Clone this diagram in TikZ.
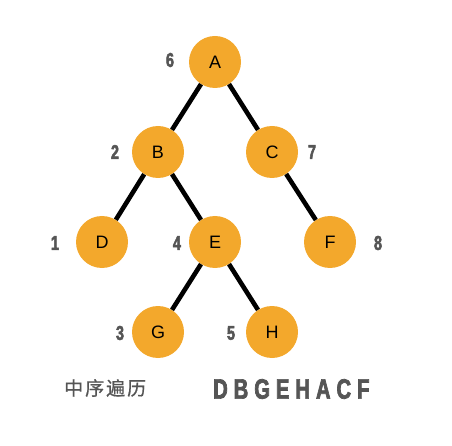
\documentclass[tikz,border=0pt]{standalone}
\usepackage{fontspec}
\setmainfont{Liberation Sans}
\newfontfamily\numfont[FakeStretch=0.72,FakeBold=2.5]{Liberation Sans Bold}
\newfontfamily\cjk[FakeBold=0.6]{Noto Sans CJK SC}
\definecolor{nodeorange}{HTML}{F3A82C}
\definecolor{labelgray}{HTML}{555555}
\begin{document}
\begin{tikzpicture}[x=1pt,y=-1pt,
  treenode/.style={circle,fill=nodeorange,minimum size=52pt,inner sep=0pt,font=\fontsize{18}{18}\selectfont},
  ordlabel/.style={text=labelgray,font=\numfont\fontsize{20}{20}\selectfont,inner sep=0pt},
  edge/.style={line width=4.6pt,black}]
\useasboundingbox (0,0) rectangle (452,446);
\node[treenode] (A) at (215,62) {A};
\node[treenode] (B) at (158,152) {B};
\node[treenode] (C) at (272,152) {C};
\node[treenode] (D) at (102,242) {D};
\node[treenode] (E) at (215,242) {E};
\node[treenode] (F) at (330,242) {F};
\node[treenode] (G) at (158,332) {G};
\node[treenode] (H) at (272,332) {H};
\draw[edge] (A) -- (B);
\draw[edge] (A) -- (C);
\draw[edge] (B) -- (D);
\draw[edge] (B) -- (E);
\draw[edge] (C) -- (F);
\draw[edge] (E) -- (G);
\draw[edge] (E) -- (H);
\node[ordlabel] (l6) at (170,60) {6};
\node[ordlabel] (l2) at (115,152) {2};
\node[ordlabel] (l7) at (312,152) {7};
\node[ordlabel] (l1) at (55,243) {1};
\node[ordlabel] (l4) at (177,243) {4};
\node[ordlabel] (l8) at (378,243) {8};
\node[ordlabel] (l3) at (120,333) {3};
\node[ordlabel] (l5) at (231,333) {5};
\node[text=labelgray,inner sep=0pt,anchor=west] (title) at (64,388) {\cjk\fontsize{19}{19}\selectfont 中\hspace{2pt}序\hspace{2pt}遍\hspace{2pt}历};
\node[text=labelgray,inner sep=0pt,anchor=west] (order) at (213,389) {\numfont\fontsize{28}{28}\selectfont D\hspace{6pt}B\hspace{6pt}G\hspace{6pt}E\hspace{6pt}H\hspace{6pt}A\hspace{6pt}C\hspace{6pt}F};
\end{tikzpicture}
\end{document}
